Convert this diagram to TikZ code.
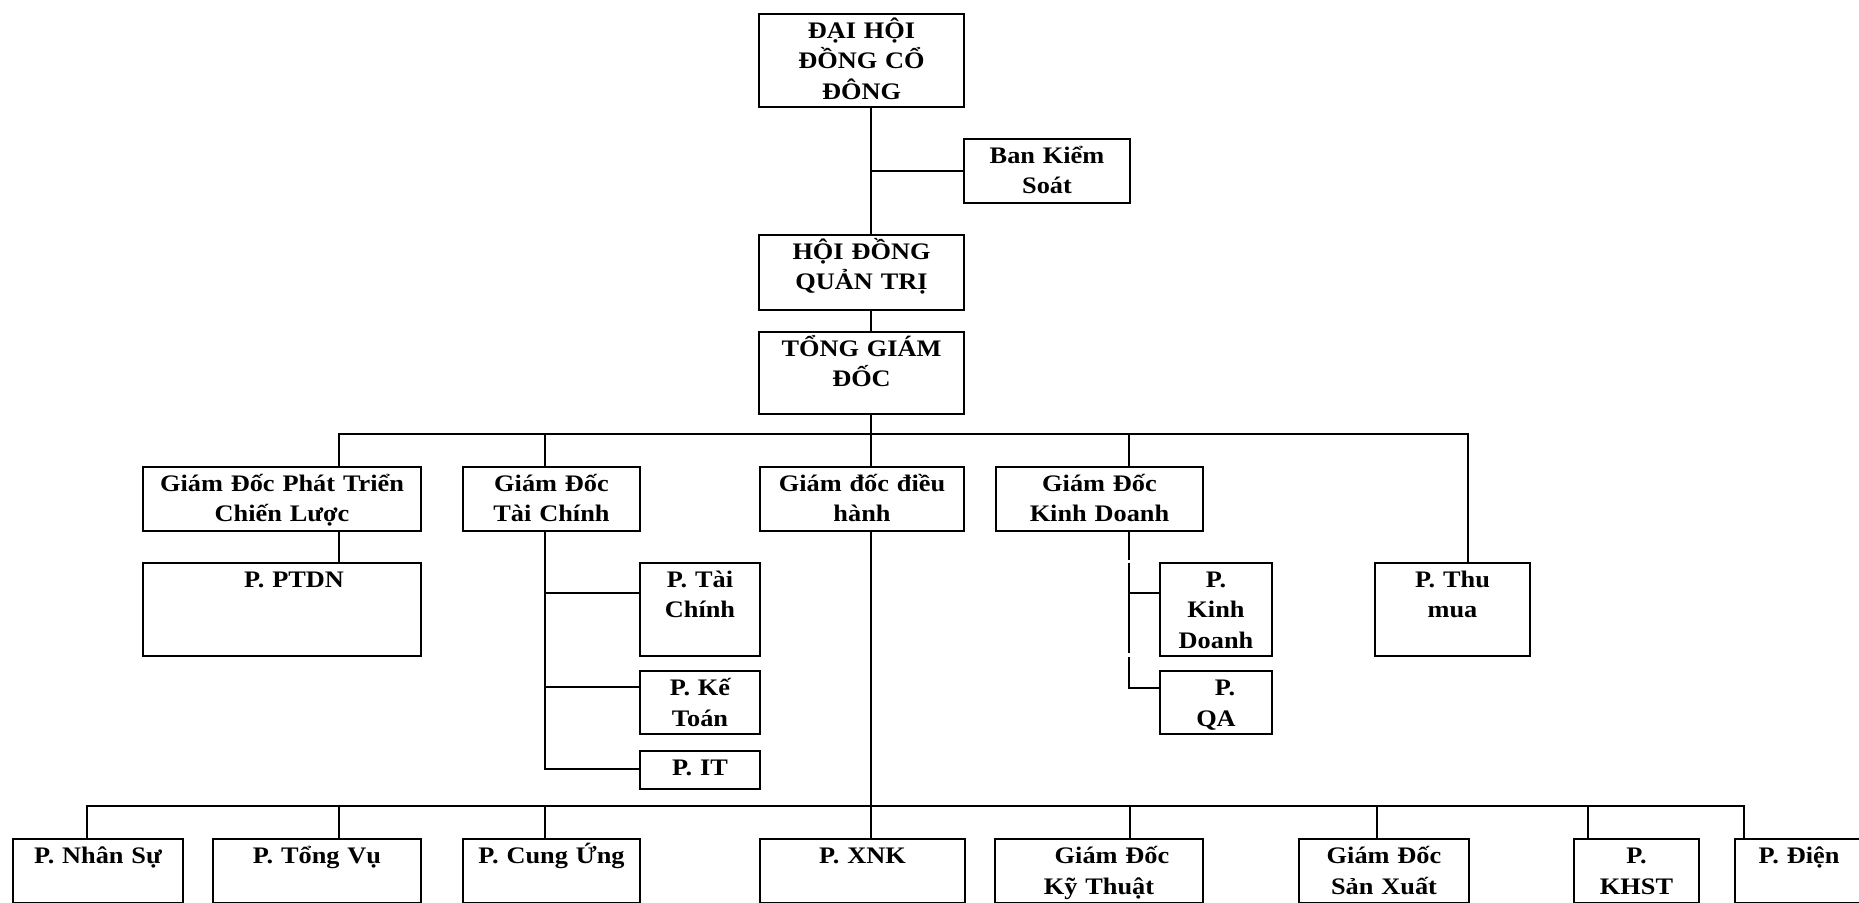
\documentclass[tikz,border=0pt]{standalone}
\usepackage{fontspec}
\setmainfont{Liberation Serif}[FakeStretch=1.11]
\newcommand\orgbox[6]{%
  \pgfmathsetlengthmacro\obW{(#4-#2)*0.5}%
  \pgfmathsetlengthmacro\obH{(#5-#3)*0.5}%
  \node[box, minimum width=\obW, minimum height=\obH] (#1) at (#2,#3) {};
  \node[lbl, text width=\obW] (#1t) at ([yshift=-12.75pt]#1.north) {#6};}
\begin{document}
\begin{tikzpicture}[x=0.5pt,y=-0.5pt,line width=1pt,
  box/.style={draw, line width=1pt, inner sep=0pt, anchor=north west},
  lbl/.style={inner sep=0pt, anchor=base, align=center, font=\bfseries\fontsize{11.85pt}{15.25pt}\selectfont},
  conn/.style={draw, line width=1pt}]
\useasboundingbox (0,0) rectangle (1859,903);
% top part
\orgbox{dhcd}{758}{13}{963}{106}{ĐẠI HỘI\\ĐỒNG CỔ\\ĐÔNG}
\orgbox{bks}{963}{138}{1129}{202}{Ban Kiểm\\Soát}
\orgbox{hdqt}{758}{234}{963}{309}{HỘI ĐỒNG\\QUẢN TRỊ}
\orgbox{tgd}{758}{331}{963}{413}{TỔNG GIÁM\\ĐỐC}
% second level
\orgbox{gdpt}{142}{466}{420}{530}{Giám Đốc Phát Triển\\Chiến Lược}
\orgbox{gdtc}{462}{466}{639}{530}{Giám Đốc\\Tài Chính}
\orgbox{gddh}{759}{466}{963}{530}{Giám đốc điều\\hành}
\orgbox{gdkd}{995}{466}{1202}{530}{Giám Đốc\\Kinh Doanh}
% third level
\orgbox{ptdn}{142}{562}{420}{655}{\hspace*{12pt}P. PTDN}
\orgbox{ptc}{639}{562}{759}{655}{P. Tài\\Chính}
\orgbox{pkt}{639}{670}{759}{733}{P. Kế\\Toán}
\orgbox{pit}{639}{750}{759}{788}{P. IT}
\orgbox{pkd}{1159}{562}{1271}{655}{P.\\Kinh\\Doanh}
\orgbox{pqa}{1159}{670}{1271}{733}{\hspace*{9pt}P.\\QA}
\orgbox{pthu}{1374}{562}{1529}{655}{P. Thu\\mua}
% bottom row
\orgbox{pns}{12}{838}{182}{901.5}{P. Nhân Sự}
\orgbox{ptv}{212}{838}{420}{901.5}{P. Tổng Vụ}
\orgbox{pcu}{462}{838}{639}{901.5}{P. Cung Ứng}
\orgbox{pxnk}{759}{838}{964}{901.5}{P. XNK}
\orgbox{gdkt}{994}{838}{1202}{901.5}{\hspace*{13pt}Giám Đốc\\Kỹ Thuật}
\orgbox{gdsx}{1298}{838}{1468}{901.5}{Giám Đốc\\Sản Xuất}
\orgbox{pkhst}{1573}{838}{1698}{901.5}{P.\\KHST}
\orgbox{pdien}{1734}{838}{1862}{901.5}{P. Điện}
% coordinates
\coordinate (sp) at (871,0);
\coordinate (t1) at (339,434);
\coordinate (t2) at (545,434);
\coordinate (t4) at (1129,434);
\coordinate (t5) at (1468,434);
\coordinate (f1) at (545,593);
\coordinate (f2) at (545,687);
\coordinate (f3) at (545,769);
\coordinate (g1) at (1129,560);
\coordinate (g2) at (1129,563);
\coordinate (g3) at (1129,653);
\coordinate (g4) at (1129,657);
\coordinate (k1) at (1129,593);
\coordinate (k2) at (1129,688);
\coordinate (u1) at (87,805.7);
\coordinate (u2) at (339,805.7);
\coordinate (u3) at (545,805.7);
\coordinate (u5) at (1130,805.7);
\coordinate (u6) at (1377,805.7);
\coordinate (u7) at (1588,805.7);
\coordinate (u8) at (1744,805.7);
% spine
\draw[conn] (dhcd.south -| sp) -- (hdqt.north -| sp);
\draw[conn] (bks.west) -- (bks.west -| sp);
\draw[conn] (hdqt.south -| sp) -- (tgd.north -| sp);
\draw[conn] (tgd.south -| sp) -- (gddh.north -| sp);
\draw[conn] (gddh.south -| sp) -- (pxnk.north -| sp);
% top bus
\draw[conn] (gdpt.north -| t1) -- (t1) -- (t5) -- (pthu.north -| t5);
\draw[conn] (t2) -- (gdtc.north -| t2);
\draw[conn] (t4) -- (gdkd.north -| t4);
% children
\draw[conn] (gdpt.south -| t1) -- (ptdn.north -| t1);
\draw[conn] (gdtc.south -| t2) -- (f3) -- (f3 -| pit.west);
\draw[conn] (f1) -- (f1 -| ptc.west);
\draw[conn] (f2) -- (f2 -| pkt.west);
\draw[conn] (gdkd.south -| g1) -- (g1);
\draw[conn] (g2) -- (g3);
\draw[conn] (g4) -- (k2) -- (k2 -| pqa.west);
\draw[conn] (k1) -- (k1 -| pkd.west);
% bottom bus
\draw[conn] (pns.north -| u1) -- (u1) -- (u8) -- (pdien.north -| u8);
\draw[conn] (u2) -- (ptv.north -| u2);
\draw[conn] (u3) -- (pcu.north -| u3);
\draw[conn] (u5) -- (gdkt.north -| u5);
\draw[conn] (u6) -- (gdsx.north -| u6);
\draw[conn] (u7) -- (pkhst.north -| u7);
\end{tikzpicture}
\end{document}
